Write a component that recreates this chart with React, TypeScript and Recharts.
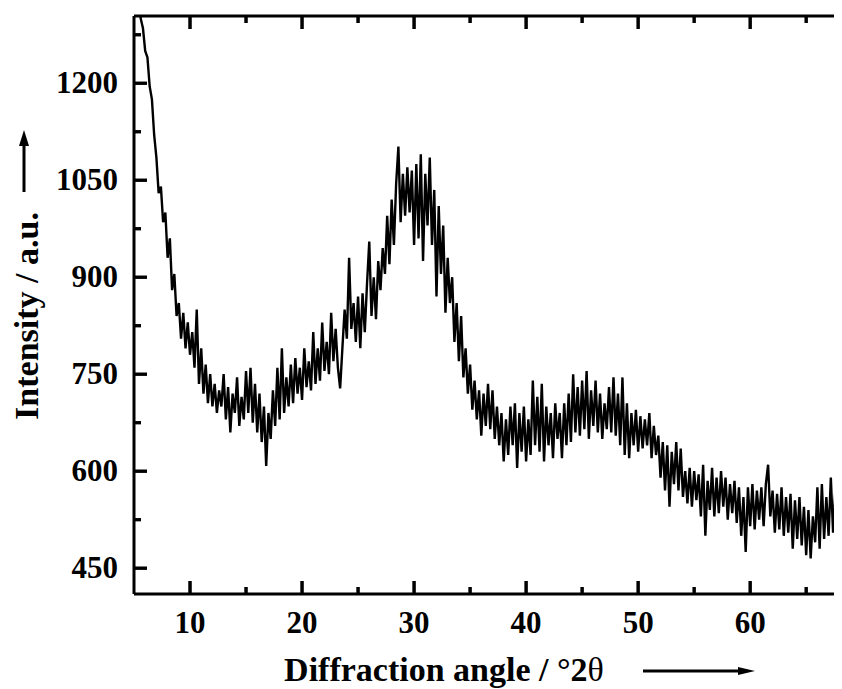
import { LineChart, Line, XAxis, YAxis } from "recharts";

// XRD pattern, sampled every 0.2 °2θ starting at 5.0
const START_ANGLE = 5;
const STEP = 0.2;

const INTENSITY_5_15 = [
  1420, 1380, 1345, 1300, 1285, 1250, 1240, 1195, 1175, 1120,
  1085, 1030, 1040, 985, 1000, 930, 960, 880, 905, 840,
  860, 805, 845, 790, 830, 780, 815, 760, 850, 735,
  790, 720, 765, 705, 750, 700, 735, 690, 725, 700,
  750, 680, 730, 660, 720, 690, 745, 670, 715, 680,
];
const INTENSITY_15_25 = [
  755, 690, 760, 675, 735, 660, 720, 645, 700, 608,
  690, 650, 725, 670, 760, 680, 790, 690, 745, 700,
  765, 705, 775, 720, 760, 710, 790, 730, 770, 725,
  815, 735, 790, 740, 830, 755, 800, 750, 845, 770,
  820, 760, 728, 790, 850, 805, 930, 820, 860, 800,
];
const INTENSITY_25_35 = [
  870, 790, 875, 815, 890, 955, 840, 900, 835, 925,
  880, 945, 905, 995, 920, 1020, 950, 1045, 1102, 985,
  1060, 995, 1070, 1000, 1065, 950, 1075, 960, 1090, 925,
  1060, 980, 1085, 950, 1035, 870, 1010, 905, 980, 845,
  930, 860, 900, 800, 860, 770, 840, 745, 790, 720,
];
const INTENSITY_35_45 = [
  765, 695, 740, 680, 725, 655, 720, 670, 735, 665,
  725, 650, 700, 640, 690, 615, 680, 625, 700, 640,
  705, 605, 690, 630, 700, 615, 680, 625, 740, 640,
  715, 630, 735, 615, 700, 640, 690, 620, 705, 650,
  690, 620, 705, 640, 720, 645, 750, 660, 730, 655,
];
const INTENSITY_45_55 = [
  740, 665, 755, 650, 725, 670, 740, 660, 720, 650,
  705, 665, 730, 660, 745, 655, 720, 640, 745, 625,
  705, 620, 690, 640, 695, 630, 685, 635, 680, 640,
  690, 620, 670, 625, 655, 590, 645, 570, 640, 545,
  630, 580, 645, 570, 635, 560, 600, 550, 605, 545,
];
const INTENSITY_55_65 = [
  600, 555, 595, 530, 610, 500, 585, 540, 605, 530,
  590, 535, 600, 545, 590, 525, 580, 535, 585, 520,
  575, 500, 560, 475, 575, 515, 580, 510, 570, 525,
  575, 515, 580, 610, 530, 570, 505, 565, 510, 575,
  500, 560, 505, 565, 480, 555, 495, 560, 485, 545,
];
const INTENSITY_65_69 = [
  470, 540, 465, 530, 490, 575, 480, 580, 495, 560,
  500, 590, 505, 570, 520, 530, 440,
];

const INTENSITY = [
  ...INTENSITY_5_15,
  ...INTENSITY_15_25,
  ...INTENSITY_25_35,
  ...INTENSITY_35_45,
  ...INTENSITY_45_55,
  ...INTENSITY_55_65,
  ...INTENSITY_65_69,
];

const X_MAJOR = [10, 20, 30, 40, 50, 60];
const X_MINOR = [15, 25, 35, 45, 55, 65];
const Y_MAJOR = [450, 600, 750, 900, 1050, 1200];
const Y_MINOR = [525, 675, 825, 975, 1125, 1275];

const data = INTENSITY.map((v, i) => ({
  angle: Number((START_ANGLE + i * STEP).toFixed(1)),
  intensity: v,
}));

const FONT = "'Liberation Serif', 'Times New Roman', serif";
const X_DOMAIN = [5, 69];
const Y_DOMAIN = [410, 1304];
const axisStroke = { stroke: "#000", strokeWidth: 3 };

// plot box (chart px); used to turn tick lengths into axis units
const PLOT_LEFT = 126;
const PLOT_TOP = 8;
const PLOT_W = 717;
const PLOT_H = 578;
const XU = (X_DOMAIN[1] - X_DOMAIN[0]) / PLOT_W;
const YU = (Y_DOMAIN[1] - Y_DOMAIN[0]) / PLOT_H;
const MAJOR_LEN = 13;
const MINOR_LEN = 7;
const TW = 3;

const px = (v: number) => PLOT_LEFT + ((v - X_DOMAIN[0]) / (X_DOMAIN[1] - X_DOMAIN[0])) * PLOT_W;
const py = (v: number) => PLOT_TOP + ((Y_DOMAIN[1] - v) / (Y_DOMAIN[1] - Y_DOMAIN[0])) * PLOT_H;

// inward frame ticks as broken segments, drawn through the chart's own scales
const tickData: { angle: number; tick: number | null }[] = [];
const pushSeg = (x1: number, y1: number, x2: number, y2: number) => {
  tickData.push({ angle: x1, tick: y1 }, { angle: x2, tick: y2 }, { angle: x2, tick: null });
};
[...X_MAJOR.map((v) => [v, MAJOR_LEN]), ...X_MINOR.map((v) => [v, MINOR_LEN])].forEach(([v, len]) => {
  pushSeg(v, Y_DOMAIN[0], v, Y_DOMAIN[0] + len * YU);
  pushSeg(v, Y_DOMAIN[1], v, Y_DOMAIN[1] - len * YU);
});
[...Y_MAJOR.map((v) => [v, MAJOR_LEN]), ...Y_MINOR.map((v) => [v, MINOR_LEN])].forEach(([v, len]) => {
  pushSeg(X_DOMAIN[0], v, X_DOMAIN[0] + len * XU, v);
  pushSeg(X_DOMAIN[1], v, X_DOMAIN[1] - len * XU, v);
});

const renderBottomLabel = (props: any) => {
  const { x, y, payload } = props;
  return (
    <text x={x} y={y + 39} textAnchor="middle" fontFamily={FONT} fontWeight="bold" fontSize={31} fill="#000">
      {payload.value}
    </text>
  );
};

const renderLeftLabel = (props: any) => {
  const { x, y, payload } = props;
  return (
    <text x={x - 16} y={y + 10} textAnchor="end" fontFamily={FONT} fontWeight="bold" fontSize={31} fill="#000">
      {payload.value}
    </text>
  );
};

function xTicks(values: number[], len: number) {
  const bottom = PLOT_TOP + PLOT_H;
  return values.map((v) => (
    <g key={`x${v}`}>
      <rect x={px(v) - TW / 2} y={bottom - len} width={TW} height={len} fill="#000" />
      <rect x={px(v) - TW / 2} y={PLOT_TOP} width={TW} height={len} fill="#000" />
    </g>
  ));
}

function yTicks(values: number[], len: number) {
  const right = PLOT_LEFT + PLOT_W;
  return values.map((v) => (
    <g key={`y${v}`}>
      <rect x={PLOT_LEFT} y={py(v) - TW / 2} width={len} height={TW} fill="#000" />
      <rect x={right - len} y={py(v) - TW / 2} width={len} height={TW} fill="#000" />
    </g>
  ));
}

export default function App() {
  return (
    <div style={{ position: "relative", width: 834, height: 681, overflow: "hidden" }}>
      <LineChart width={850} height={681} data={data} margin={{ top: 7, right: 6, bottom: 0, left: 0 }}>
        <XAxis dataKey="angle" type="number" domain={X_DOMAIN} allowDataOverflow
          ticks={X_MAJOR} interval={0} tick={renderBottomLabel} tickSize={0} tickMargin={0}
          tickLine={false} axisLine={axisStroke} height={95} />
        <XAxis xAxisId="top" orientation="top" dataKey="angle" type="number" domain={X_DOMAIN} allowDataOverflow
          ticks={X_MAJOR} interval={0} tick={false} tickLine={false} axisLine={axisStroke} height={1} />
        <YAxis type="number" domain={Y_DOMAIN} allowDataOverflow
          ticks={Y_MAJOR} interval={0} tick={renderLeftLabel} tickSize={0} tickMargin={0}
          tickLine={false} axisLine={axisStroke} width={126} />
        <YAxis yAxisId="right" orientation="right" type="number" domain={Y_DOMAIN} allowDataOverflow
          ticks={Y_MAJOR} interval={0} tick={false} tickLine={false} axisLine={axisStroke} width={1} />
        <Line
          dataKey="intensity"
          type="linear"
          stroke="#000"
          strokeWidth={2.4}
          dot={false}
          isAnimationActive={false}
        />
        <Line
          data={tickData}
          dataKey="tick"
          type="linear"
          stroke="#000"
          strokeWidth={TW}
          strokeLinecap="butt"
          connectNulls={false}
          dot={false}
          activeDot={false}
          isAnimationActive={false}
        />
        <g>
          <text
            transform="translate(30, 308) rotate(-90)"
            textAnchor="middle"
            fontFamily={FONT}
            fontWeight="bold"
            fontSize={34}
            fill="#000"
          >
            Intensity / a.u.
          </text>
          <line x1={16} x2={16} y1={184} y2={136} stroke="#000" strokeWidth={3} />
          <polygon points="16,122 11,138 21,138" fill="#000" />
          <text x={436} y={673} textAnchor="middle" fontFamily={FONT} fontWeight="bold" fontSize={34} fill="#000">
            Diffraction angle / °2<tspan fontWeight="normal">θ</tspan>
          </text>
          <line x1={635} x2={734} y1={663} y2={663} stroke="#000" strokeWidth={3} />
          <polygon points="747,663 730,659 730,667" fill="#000" />
        </g>
      </LineChart>
      <svg width={850} height={681} style={{ position: "absolute", left: 0, top: 0, zIndex: 10, pointerEvents: "none" }}>
        {xTicks(X_MAJOR, MAJOR_LEN)}
        {xTicks(X_MINOR, MINOR_LEN)}
        {yTicks(Y_MAJOR, MAJOR_LEN)}
        {yTicks(Y_MINOR, MINOR_LEN)}
      </svg>
    </div>
  );
}
